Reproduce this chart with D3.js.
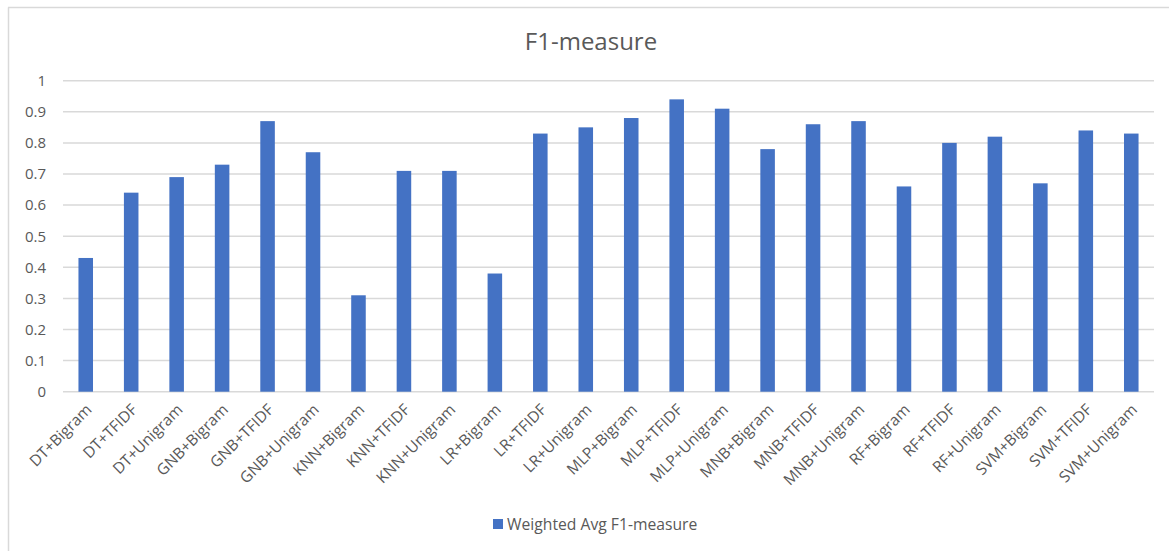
<!DOCTYPE html>
<html>
<head>
<meta charset="utf-8">
<script src="https://cdn.jsdelivr.net/npm/d3@7"></script>
<style>
  html, body { margin: 0; padding: 0; background: #fff; }
  svg { display: block; }
  text { font-family: "Open Sans", "Noto Sans", sans-serif; fill: #595959; }
</style>
</head>
<body>
<svg id="chart" width="1169" height="551"></svg>
<script>
const categories = ["DT+Bigram","DT+TFIDF","DT+Unigram","GNB+Bigram","GNB+TFIDF","GNB+Unigram",
  "KNN+Bigram","KNN+TFIDF","KNN+Unigram","LR+Bigram","LR+TFIDF","LR+Unigram",
  "MLP+Bigram","MLP+TFIDF","MLP+Unigram","MNB+Bigram","MNB+TFIDF","MNB+Unigram",
  "RF+Bigram","RF+TFIDF","RF+Unigram","SVM+Bigram","SVM+TFIDF","SVM+Unigram"];
const values = [0.43,0.64,0.69,0.73,0.87,0.77,
  0.31,0.71,0.71,0.38,0.83,0.85,
  0.88,0.94,0.91,0.78,0.86,0.87,
  0.66,0.80,0.82,0.67,0.84,0.83];
const yTicks = [0,0.1,0.2,0.3,0.4,0.5,0.6,0.7,0.8,0.9,1];
const seriesName = "Weighted Avg F1-measure";
const title = "F1-measure";

const svg = d3.select("#chart");
const W = 1169, H = 551;
const plot = {left: 63, right: 1154, top: 80.7, bottom: 391.7};
const barColor = "#4472C4";
const gridColor = "#d9d9d9";

// chart frame (top and left edges visible)
svg.append("line").attr("x1", 8).attr("x2", W).attr("y1", 7.5).attr("y2", 7.5)
  .attr("stroke", gridColor).attr("stroke-width", 1.5);
svg.append("line").attr("x1", 8.5).attr("x2", 8.5).attr("y1", 7.5).attr("y2", H)
  .attr("stroke", gridColor).attr("stroke-width", 1.5);

const x = d3.scaleBand().domain(categories).range([plot.left, plot.right]).paddingInner(0.68).paddingOuter(0.34);
const y = d3.scaleLinear().domain([0, 1]).range([plot.bottom, plot.top]);

// gridlines
svg.append("g").selectAll("line").data(yTicks).join("line")
  .attr("x1", plot.left).attr("x2", plot.right)
  .attr("y1", d => y(d)).attr("y2", d => y(d))
  .attr("stroke", gridColor).attr("stroke-width", 1.5);

// y axis labels
const yAxis = d3.axisLeft(y).tickValues(yTicks).tickSize(0).tickPadding(0)
  .tickFormat(d => d3.format("~g")(d));
const yg = svg.append("g").attr("transform", `translate(${plot.left - 17},0)`).call(yAxis);
yg.select(".domain").remove();
yg.selectAll("text").attr("font-size", 15).attr("fill", "#595959")
  .style("font-family", '"Open Sans", sans-serif');

// bars
svg.append("g").selectAll("rect").data(categories).join("rect")
  .attr("x", d => x(d))
  .attr("width", x.bandwidth())
  .attr("y", (d, i) => y(values[i]))
  .attr("height", (d, i) => y(0) - y(values[i]))
  .attr("fill", barColor);

// x axis labels
const xAxis = d3.axisBottom(x).tickSize(0).tickPadding(0);
const xg = svg.append("g").attr("transform", `translate(0,${plot.bottom})`).call(xAxis);
xg.select(".domain").remove();
xg.selectAll("text")
  .attr("font-size", 15.5).attr("fill", "#595959")
  .style("font-family", '"Open Sans", sans-serif')
  .attr("text-anchor", "end")
  .attr("dy", 0).attr("y", 0)
  .attr("transform", "translate(7,19) rotate(-45)");

// title
svg.append("text").attr("x", 591).attr("y", 50).attr("text-anchor", "middle")
  .attr("font-size", 24).text(title);

// legend
const lg = svg.append("g").attr("transform", "translate(493,519)");
lg.append("rect").attr("width", 10).attr("height", 10).attr("fill", barColor);
lg.append("text").attr("x", 14).attr("y", 10.5).attr("font-size", 15.7).text(seriesName);
</script>
</body>
</html>
